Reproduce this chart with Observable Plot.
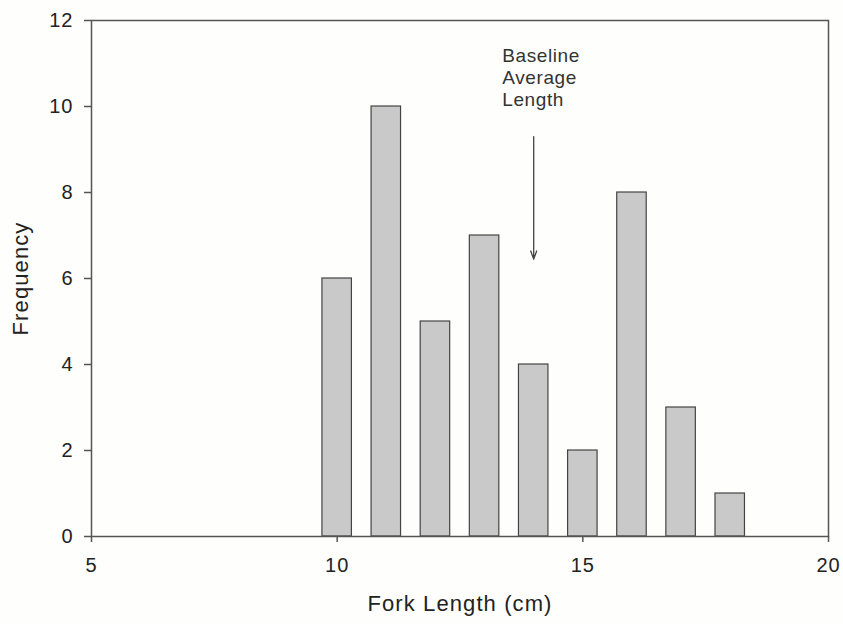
<!DOCTYPE html>
<html>
<head>
<meta charset="utf-8">
<script src="https://cdn.jsdelivr.net/npm/d3@7"></script>
<script src="https://cdn.jsdelivr.net/npm/@observablehq/plot@0.6"></script>
<style>
  html, body { margin: 0; padding: 0; background: #fefefc; }
  #chart svg { display: block; }
</style>
</head>
<body>
<div id="chart"></div>
<script>
// Data
const forkLengths = [10, 11, 12, 13, 14, 15, 16, 17, 18];
const frequencies = [6, 10, 5, 7, 4, 2, 8, 3, 1];
const xTicks = [5, 10, 15, 20];
const yTicks = [0, 2, 4, 6, 8, 10, 12];
const xTitle = "Fork Length (cm)";
const yTitle = "Frequency";
const annotationText = ["Baseline\nAverage\nLength"];
const annotationX = [13.36];
const annotationY = [11.4];
const arrowX = [14];
const arrowFrom = [9.3];
const arrowTo = [6.45];

const data = forkLengths.map((len, i) => ({len, freq: frequencies[i]}));
const halfWidth = 0.3;

const chart = Plot.plot({
  width: 843,
  height: 624,
  marginLeft: 91,
  marginRight: 15,
  marginTop: 20,
  marginBottom: 88,
  style: {fontFamily: "'Liberation Sans', Arial, sans-serif", color: "#222", background: "#fefefc"},
  x: {domain: [5, 20]},
  y: {domain: [0, 12]},
  marks: [
    Plot.rectY(data, {
      x1: d => d.len - halfWidth,
      x2: d => d.len + halfWidth,
      y: "freq",
      fill: "#c9c9c9",
      stroke: "#444",
      strokeWidth: 1.2
    }),
    Plot.frame({stroke: "#555", strokeWidth: 1.5}),
    Plot.axisX({ticks: xTicks, tickSize: 6, tickPadding: 15, fontSize: 20, label: null, stroke: "#555", strokeWidth: 1.5, fill: "#222"}),
    Plot.axisY({ticks: yTicks, tickSize: 7, tickPadding: 11, fontSize: 20, label: null, stroke: "#555", strokeWidth: 1.5, fill: "#222"}),
    Plot.text([xTitle], {frameAnchor: "bottom", textAnchor: "middle", dy: 74, fontSize: 22, fill: "#222"}),
    Plot.text([yTitle], {frameAnchor: "left", textAnchor: "middle", dx: -71, rotate: -90, fontSize: 22, fill: "#222"}),
    Plot.arrow(arrowX.map((x, i) => ({x, y1: arrowFrom[i], y2: arrowTo[i]})), {
      x1: "x", x2: "x", y1: "y1", y2: "y2",
      stroke: "#444", strokeWidth: 1.3, headLength: 10, headAngle: 40
    }),
    Plot.text(annotationText.map((t, i) => ({t, x: annotationX[i], y: annotationY[i]})), {
      x: "x", y: "y", text: "t", textAnchor: "start", lineAnchor: "top",
      fontSize: 19, lineHeight: 1.16, fill: "#333"
    })
  ]
});
// Slightly wider letter spacing to match the reference's typography
d3.select(chart).selectAll("text").each(function () {
  const t = this.textContent;
  let ls = "1px";
  if (t === xTitle || t === yTitle) ls = "1.1px";
  else if (t.startsWith("Baseline")) ls = "0.6px";
  d3.select(this).style("letter-spacing", ls);
});
document.getElementById("chart").appendChild(chart);
</script>
</body>
</html>
